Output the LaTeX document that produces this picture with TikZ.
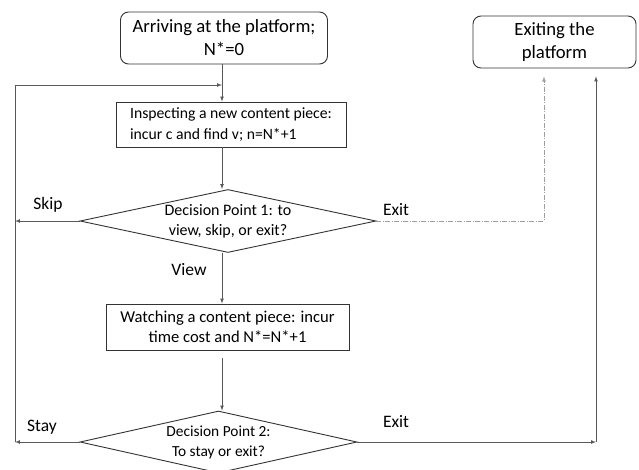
\documentclass[tikz,border=0pt]{standalone}
\usepackage{fontspec}
\setmainfont{Carlito}
\usetikzlibrary{shapes.geometric}
\definecolor{linegray}{rgb}{0.35,0.35,0.35}
\definecolor{exitgray}{rgb}{0.62,0.62,0.62}

\begin{document}
\begin{tikzpicture}[>=latex, x=1pt, y=-1pt,
    startbox/.style={draw=black!80, rounded corners=8pt, line width=0.9pt, minimum width=207pt, minimum height=52pt, align=center, font=\fontsize{18.7}{23}\selectfont},
    procbox/.style={draw=black!80, line width=0.9pt, font=\fontsize{15.7}{21}\selectfont, minimum height=46pt},
    decision/.style={draw=black!80, diamond, line width=0.9pt, inner sep=0pt},
    dtext/.style={align=center, font=\fontsize{16}{20}\selectfont},
    lbl/.style={font=\fontsize{17.5}{20}\selectfont},
    conn/.style={draw=linegray, line width=0.7pt},
    exitline/.style={draw=exitgray, line width=0.8pt, dash pattern=on 5pt off 1.5pt on 1pt off 1.5pt}]
      \clip (0,0) rectangle (639,469);

      \node[startbox] (arrive) at (224,38) {Arriving at the platform;\\N*=0};
      \node[startbox, minimum width=163pt] (leave) at (554.5,42) {Exiting the\\platform};
      \node[procbox, minimum width=230pt, minimum height=45pt, align=left] (inspect) at (231,124.5) {Inspecting a new content piece:\\incur c and find v; n=N*+1};
      \node[decision, minimum width=296pt, minimum height=63pt,
        label={[dtext]center:{Decision Point 1: to\\view, skip, or exit?}}] (dp1) at (228,221) {};
      \node[procbox, minimum width=243pt, align=center, font=\fontsize{16.6}{20}\selectfont] (watch) at (227.5,327) {Watching a content piece: incur\\time cost and N*=N*+1};
      \node[decision, minimum width=277pt, minimum height=62pt,
        label={[dtext, font=\fontsize{15.4}{20}\selectfont]center:{Decision Point 2:\\To stay or exit?}}] (dp2) at (218.5,442) {};

      \node[lbl] (skip) at (48,205) {Skip};
      \node[lbl] (exit1) at (396,210) {Exit};
      \node[lbl] (view) at (189,270) {View};
      \node[lbl] (stayl) at (42,427) {Stay};
      \node[lbl] (exit2) at (396,422) {Exit};

      \coordinate (spine) at (222,0);
      \coordinate (loopin) at (222,85);
      \coordinate (stay) at (15,442);
      \coordinate (out1) at (544,221);
      \coordinate (out2) at (596,442);

      \draw[conn,->] (arrive.south -| spine) -- (inspect.north -| spine);
      \draw[conn,->] (dp2.west) -- (stay);
      \draw[conn,->] (stay) |- (loopin);
      \draw[conn,->] (dp1.west) -- (dp1.west -| stay);
      \draw[conn,->] (inspect.south -| spine) -- (dp1.north -| spine);
      \draw[conn,->] (dp1.south -| spine) -- (watch.north -| spine);
      \draw[conn,->, shorten <=8pt] (watch.south -| spine) -- (dp2.north -| spine);
      \draw[exitline,->, shorten >=8pt] (dp1.east) -- (out1) -- (out1 |- leave.south);
      \draw[conn,->] (dp2.east) -- (out2);
      \draw[conn,->, shorten >=8pt] (out2) -- (out2 |- leave.south);

\end{tikzpicture}
\end{document}
